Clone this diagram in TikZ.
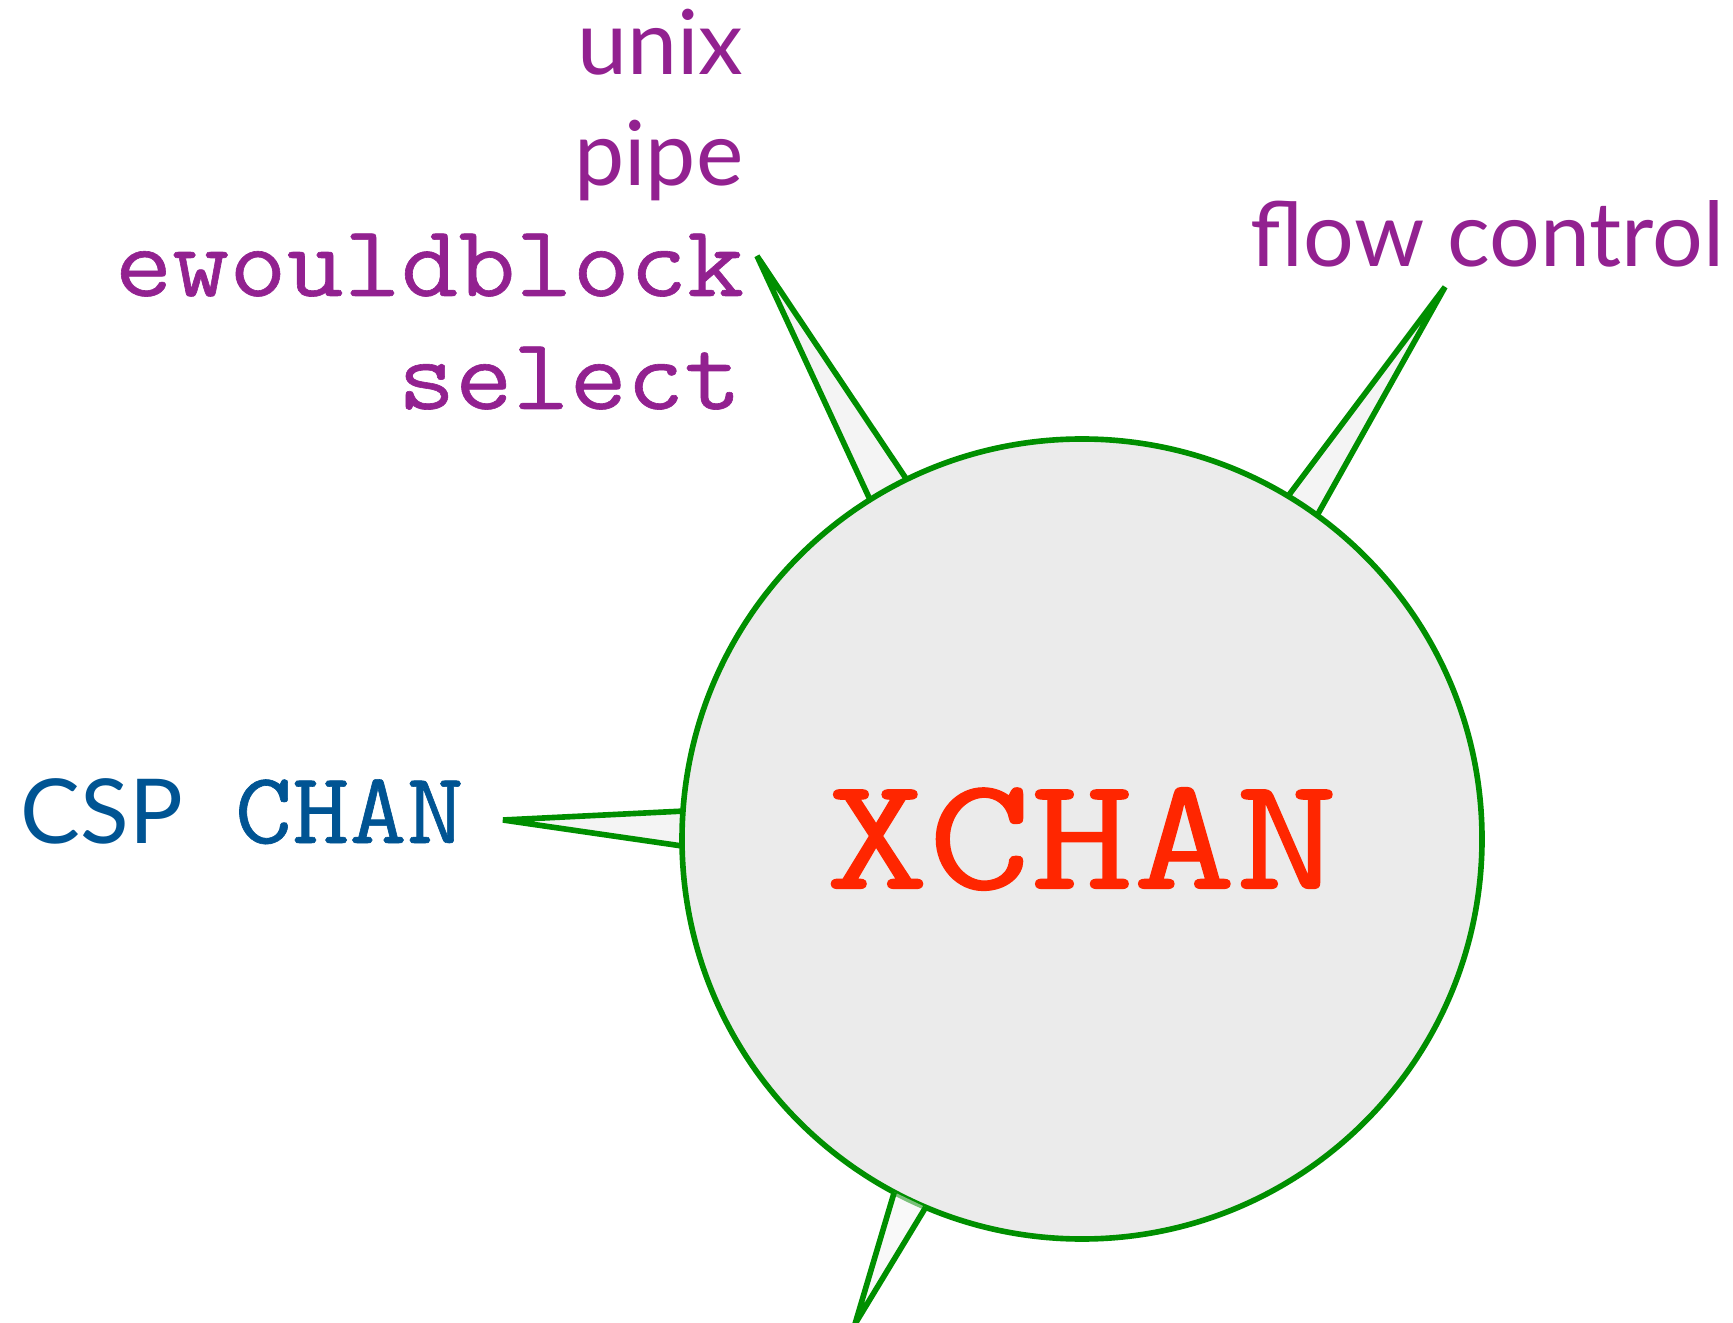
\documentclass[tikz,border=0pt]{standalone}
\usepackage{fontspec}
\setsansfont{Lato}
\setmonofont[FakeBold=0.6, FakeStretch=1.09]{Latin Modern Mono}
\newfontfamily\chanfont[FakeBold=0.8, FakeStretch=1.23]{Latin Modern Mono}
\usetikzlibrary{backgrounds}

\definecolor{tagpurple}{RGB}{146,33,144}
\definecolor{cspblue}{RGB}{0,84,147}
\definecolor{chanred}{RGB}{255,38,0}
\definecolor{edgegreen}{RGB}{0,143,0}
\definecolor{ballgray}{RGB}{235,235,235}
\definecolor{spikegray}{RGB}{244,244,244}

\tikzset{
  spike/.style={draw=edgegreen, fill=spikegray, line width=1.6pt, line join=miter},
  tagsans/.style={text=tagpurple, font=\sffamily\fontsize{25.5}{30}\selectfont, inner sep=0pt},
  tagmono/.style={text=tagpurple, font=\ttfamily\fontsize{29}{34}\selectfont, inner sep=0pt}
}

\begin{document}
\begin{tikzpicture}
    \useasboundingbox (0,0) rectangle (17.33,13.22);

    % the channel itself
    \node[circle, draw=edgegreen, fill=ballgray, line width=1.6pt, minimum size=8cm,
          inner sep=0pt, outer sep=0pt, text=chanred,
          font=\chanfont\fontsize{46}{54}\selectfont] (chan) at (10.82,4.83) {XCHAN};

    % labels round it
    \node[tagsans, anchor=base east] (unix) at (7.44,12.47) {unix};
    \node[tagsans, anchor=base east] (pipe) at (7.44,11.36) {pipe};
    \node[tagmono, anchor=base east] (ewb) at (7.45,10.26) {ewouldblock};
    \node[tagmono, anchor=base east] (select) at (7.42,9.13) {select};
    \node[tagsans, anchor=base east] (flow) at (17.25,10.55) {flow control};
    \node[text=cspblue, inner sep=0pt, anchor=base west, font=\sffamily\fontsize{25.5}{32}\selectfont]
        (csp) at (0.20,4.79) {CSP{\ttfamily\fontsize{29}{34}\selectfont\hspace{0.52cm}CHAN}};

    % spike tips
    \coordinate (ewbtip) at (7.57,10.66);
    \coordinate (flowtip) at (14.45,10.35);
    \coordinate (csptip) at (5.03,5.02);
    \coordinate (downtip) at (8.55,-0.02);

    % spikes behind the ball
    \begin{scope}[on background layer]
        \path[spike] (chan.122) -- (ewbtip) -- (chan.116);
        \path[spike] (chan.59) -- (flowtip) -- (chan.54);
        \path[spike] (chan.176) -- (csptip) -- (chan.181);
    \end{scope}

    % this one sits on top
    \path[spike, fill opacity=0.5] (chan.242) -- (downtip) -- (chan.247.5);
\end{tikzpicture}
\end{document}
